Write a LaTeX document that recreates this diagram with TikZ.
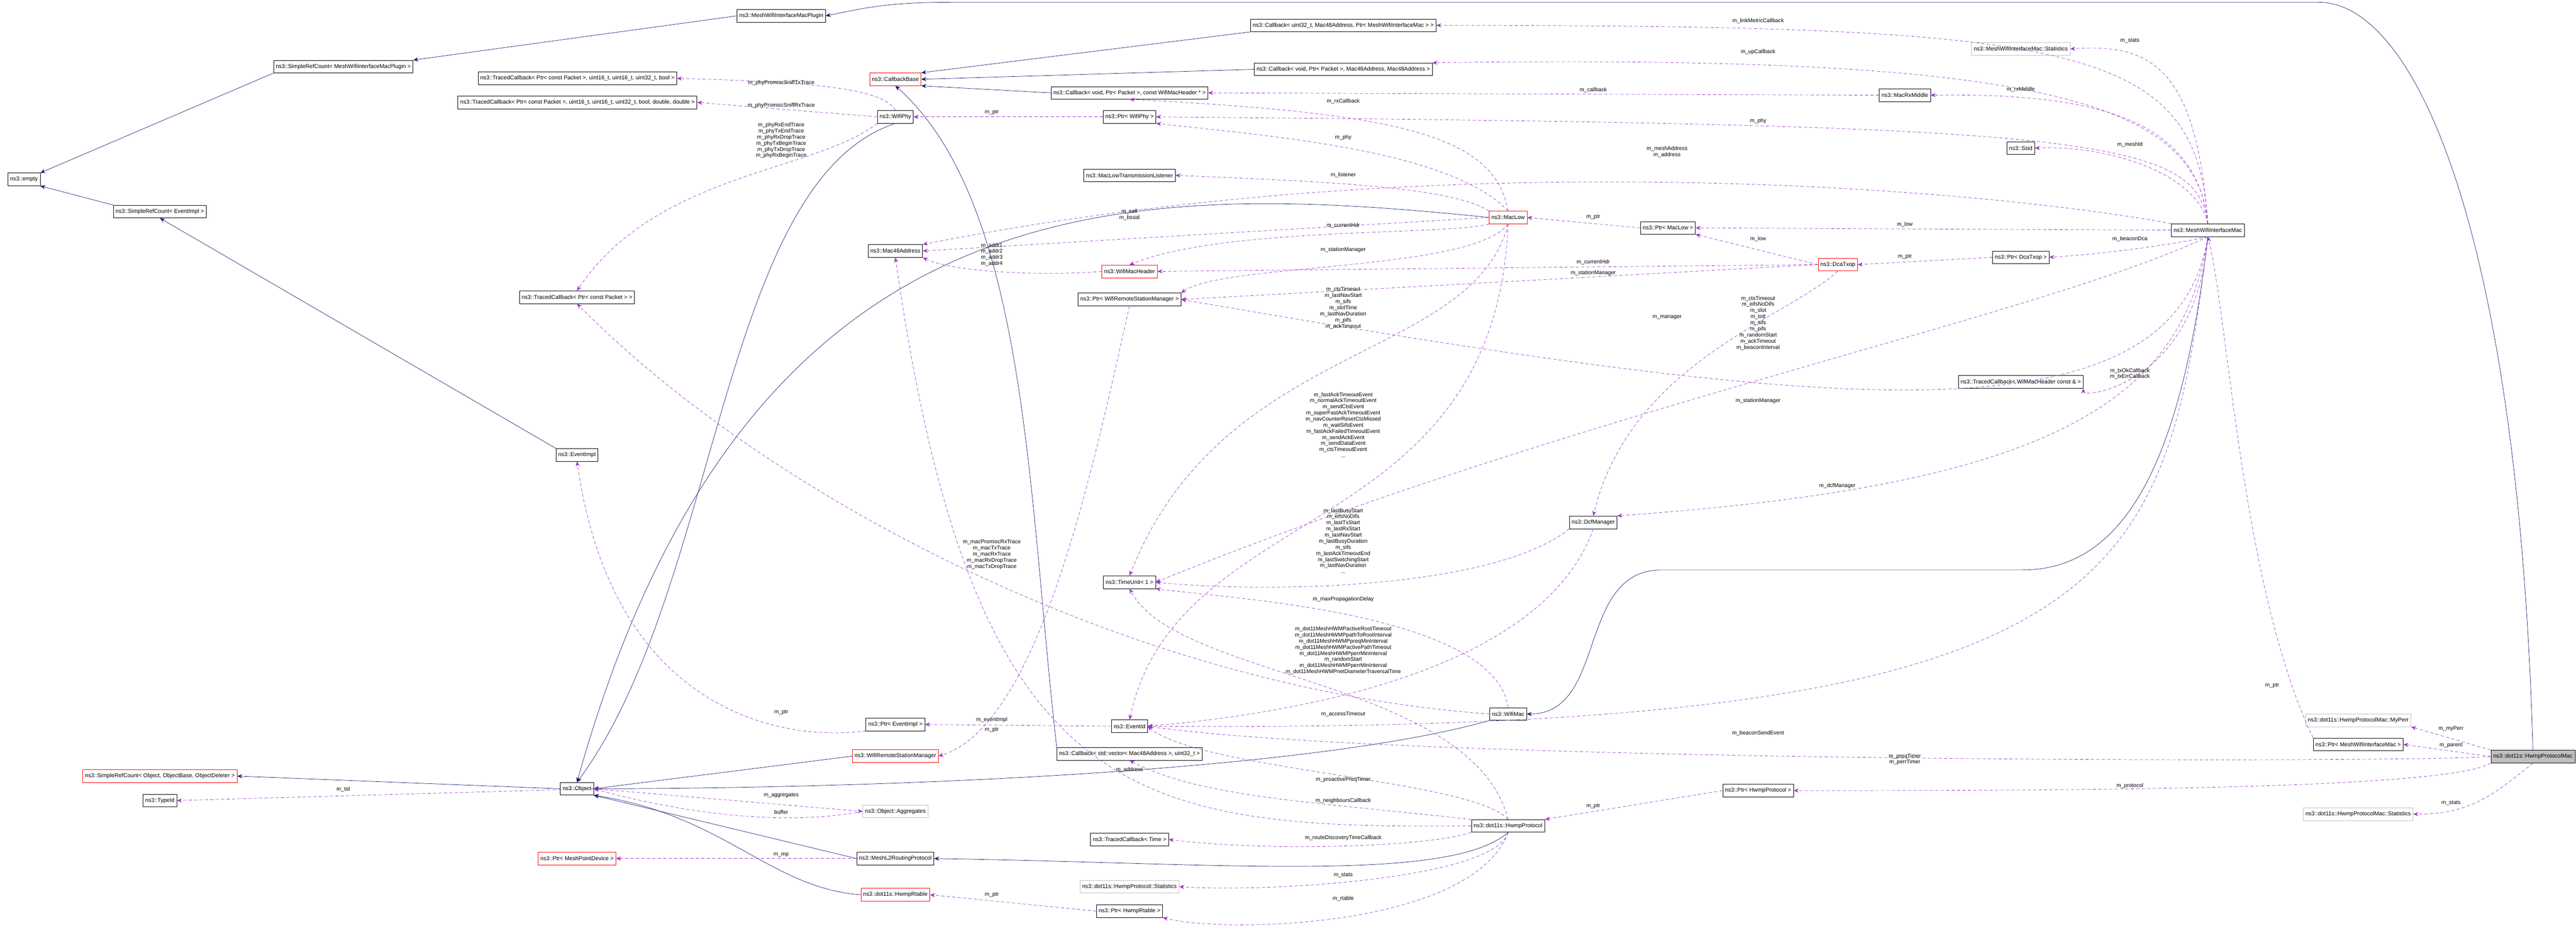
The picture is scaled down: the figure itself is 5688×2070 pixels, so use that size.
\documentclass[tikz,border=0pt]{standalone}
\usepackage{fontspec}
\setmainfont{Liberation Sans}
\usetikzlibrary{arrows.meta}

\definecolor{navyline}{HTML}{191970}
\definecolor{orchid}{HTML}{9A32CD}
\definecolor{redline}{HTML}{FF0000}
\definecolor{grayline}{HTML}{BFBFBF}
\definecolor{hifill}{HTML}{BFBFBF}

\tikzset{
  cls/.style={draw=black, thick, fill=white, minimum height=28pt, inner xsep=5pt, inner ysep=0pt},
  redcls/.style={cls, draw=redline},
  graycls/.style={cls, draw=grayline},
  hicls/.style={cls, fill=hifill},
  inh/.style={draw=navyline, thick, -{Stealth[length=11pt,width=9pt]}},
  dep/.style={draw=orchid, thick, dashed, dash pattern=on 7pt off 5pt, -{Stealth[length=11pt,width=9pt]}},
  lbl/.style={align=center, inner sep=0pt, font=\fontsize{12}{13.5}\selectfont}
}

\begin{document}
\begin{tikzpicture}[x=1pt, y=-1pt, font=\fontsize{12.5}{14}\selectfont]
\useasboundingbox (0,0) rectangle (5688,2070);

% left column
\node[cls] (empty) at (53,396) {ns3::empty};
\node[cls] (srcEvent) at (353,467) {ns3::SimpleRefCount< EventImpl >};
\node[cls] (srcPlugin) at (758,147) {ns3::SimpleRefCount< MeshWifiInterfaceMacPlugin >};
\node[redcls] (srcObject) at (353,1713) {ns3::SimpleRefCount< Object, ObjectBase, ObjectDeleter >};
\node[cls] (typeId) at (353,1767) {ns3::TypeId};

\node[cls] (plugin) at (1725,35) {ns3::MeshWifiInterfaceMacPlugin};
\node[cls] (tcbBool) at (1275,173) {ns3::TracedCallback< Ptr< const Packet >, uint16\_t, uint16\_t, uint32\_t, bool >};
\node[cls] (tcbDouble) at (1275,226) {ns3::TracedCallback< Ptr< const Packet >, uint16\_t, uint16\_t, uint32\_t, bool, double, double >};
\node[cls] (tcbPkt) at (1274,656) {ns3::TracedCallback< Ptr< const Packet > >};
\node[cls] (eventImpl) at (1274,1004) {ns3::EventImpl};
\node[cls] (object) at (1274,1741) {ns3::Object};
\node[redcls] (ptrMp) at (1274,1895) {ns3::Ptr< MeshPointDevice >};

% second column
\node[redcls] (callbackBase) at (1977,175) {ns3::CallbackBase};
\node[cls] (wifiPhy) at (1977,258) {ns3::WifiPhy};
\node[cls] (mac48) at (1977,554) {ns3::Mac48Address};
\node[cls] (ptrEvent) at (1977,1599) {ns3::Ptr< EventImpl >};
\node[redcls] (rsm) at (1977,1669) {ns3::WifiRemoteStationManager};
\node[graycls] (aggregates) at (1977,1791) {ns3::Object::Aggregates};
\node[cls] (l2) at (1977,1895) {ns3::MeshL2RoutingProtocol};
\node[redcls] (rtable) at (1977,1975) {ns3::dot11s::HwmpRtable};

% third column
\node[cls] (cbRx) at (2494,205) {ns3::Callback< void, Ptr< Packet >, const WifiMacHeader * >};
\node[cls] (ptrPhy) at (2494,258) {ns3::Ptr< WifiPhy >};
\node[cls] (lowListener) at (2494,387) {ns3::MacLowTransmissionListener};
\node[redcls] (macHdr) at (2494,599) {ns3::WifiMacHeader};
\node[cls] (ptrRsm) at (2494,661) {ns3::Ptr< WifiRemoteStationManager >};
\node[cls] (timeUnit) at (2494,1285) {ns3::TimeUnit< 1 >};
\node[cls] (eventId) at (2494,1603) {ns3::EventId};
\node[cls] (cbVec) at (2494,1664) {ns3::Callback< std::vector< Mac48Address >, uint32\_t >};
\node[cls] (tcbTime) at (2494,1853) {ns3::TracedCallback< Time >};
\node[graycls] (hwmpStats) at (2494,1957) {ns3::dot11s::HwmpProtocol::Statistics};
\node[cls] (ptrRtable) at (2494,2011) {ns3::Ptr< HwmpRtable >};

% fourth column
\node[cls] (cbLink) at (2966,56) {ns3::Callback< uint32\_t, Mac48Address, Ptr< MeshWifiInterfaceMac > >};
\node[cls] (cbUp) at (2966,153) {ns3::Callback< void, Ptr< Packet >, Mac48Address, Mac48Address >};
\node[redcls] (macLow) at (3330,480) {ns3::MacLow};
\node[cls] (wifiMac) at (3330,1576) {ns3::WifiMac};
\node[cls] (hwmp) at (3330,1823) {ns3::dot11s::HwmpProtocol};
\node[cls] (ptrLow) at (3683,503) {ns3::Ptr< MacLow >};
\node[cls] (dcfManager) at (3518,1153) {ns3::DcfManager};
\node[cls] (ptrHwmp) at (3882,1745) {ns3::Ptr< HwmpProtocol >};

% right part
\node[redcls] (dca) at (4058,584) {ns3::DcaTxop};
\node[cls] (rxMiddle) at (4206,210) {ns3::MacRxMiddle};
\node[graycls] (meshStats) at (4462,108) {ns3::MeshWifiInterfaceMac::Statistics};
\node[cls] (ssid) at (4462,327) {ns3::Ssid};
\node[cls] (ptrDca) at (4462,568) {ns3::Ptr< DcaTxop >};
\node[cls] (tcbHdr) at (4462,843) {ns3::TracedCallback< WifiMacHeader const \& >};
\node[cls] (meshMac) at (4875,508) {ns3::MeshWifiInterfaceMac};
\node[graycls] (myPerr) at (5207,1590) {ns3::dot11s::HwmpProtocolMac::MyPerr};
\node[cls] (ptrMesh) at (5207,1643) {ns3::Ptr< MeshWifiInterfaceMac >};
\node[graycls] (macStats) at (5207,1797) {ns3::dot11s::HwmpProtocolMac::Statistics};
\node[hicls, anchor=east] (hwmpMac) at (5686,1670) {ns3::dot11s::HwmpProtocolMac};

% inheritance
\draw[inh] (plugin.west) -- (srcPlugin.north east);
\draw[inh] (srcPlugin.south west) -- (empty.north east);
\draw[inh] (srcEvent.north west) -- (empty.south east);
\draw[inh] (eventImpl.north west) -- (srcEvent.south);
\draw[inh] (object.west) -- (srcObject.east);
\draw[inh] (hwmpMac.north) .. controls (5560,500) and (5330,5) .. (5120,5) -- (2100,5) .. controls (1950,5) and (1900,20) .. (plugin.east);
\draw[inh] (cbLink.south west) -- (callbackBase.north east);
\draw[inh] (cbUp.west) -- (callbackBase.east);
\draw[inh] (cbRx.west) -- (callbackBase.south east);
\draw[inh] (cbVec.north west) .. controls (2270,1100) and (2270,450) .. (callbackBase.south);
\draw[inh] (wifiPhy.south) .. controls (1590,400) and (1590,1300) .. (object.north);
\draw[inh] (macLow.west) .. controls (2500,400) and (1650,380) .. (object.north);
\draw[inh] (wifiMac.south west) .. controls (2900,1700) and (2000,1740) .. (object.east);
\draw[inh] (rsm.west) -- (object.east);
\draw[inh] (l2.west) -- (object.south east);
\draw[inh] (rtable.west) .. controls (1700,1960) and (1600,1800) .. (object.south east);
\draw[inh] (meshMac.south) .. controls (4820,1000) and (4700,1258) .. (4466,1258) -- (3669,1258) .. controls (3480,1258) and (3550,1576) .. (wifiMac.east);
\draw[inh] (hwmp.south) .. controls (3200,1950) and (2700,1905) .. (l2.east);

% members
\draw[dep] (wifiPhy.north) .. controls (1950,190) and (1750,180) .. (tcbBool.east);
\draw[dep] (wifiPhy.west) -- (tcbDouble.east);
\draw[dep] (wifiPhy.south west) .. controls (1800,380) and (1450,380) .. (tcbPkt.north);
\draw[dep] (wifiMac.west) .. controls (2500,1520) and (1700,1100) .. (tcbPkt.south);
\draw[dep] (ptrPhy.west) -- (wifiPhy.east);
\draw[dep] (eventId.west) -- (ptrEvent.east);
\draw[dep] (ptrEvent.south west) .. controls (1700,1640) and (1350,1550) .. (eventImpl.south);
\draw[dep] (object.east) -- (typeId.east);
\draw[dep] (object.east) -- (aggregates.west);
\draw[dep] (aggregates.west) .. controls (1700,1830) and (1450,1780) .. (object.east);
\draw[dep] (l2.west) -- (ptrMp.east);
\draw[dep] (macLow.north) .. controls (3300,300) and (3100,250) .. (cbRx.south);
\draw[dep] (macLow.north) .. controls (3200,330) and (2800,300) .. (ptrPhy.south east);
\draw[dep] (macLow.north west) .. controls (3200,410) and (2900,400) .. (lowListener.east);
\draw[dep] (macLow.west) -- (mac48.east);
\draw[dep] (macLow.south west) .. controls (3200,520) and (2700,500) .. (macHdr.north);
\draw[dep] (macLow.south) .. controls (3250,600) and (2700,580) .. (ptrRsm.north east);
\draw[dep] (macLow.south) .. controls (3250,800) and (2700,750) .. (timeUnit.north);
\draw[dep] (macLow.south) .. controls (3300,1200) and (2600,1100) .. (eventId.north);
\draw[dep] (macHdr.west) .. controls (2300,610) and (2100,600) .. (mac48.south east);
\draw[dep] (ptrLow.west) -- (macLow.east);
\draw[dep] (ptrRsm.south) .. controls (2420,1000) and (2300,1600) .. (rsm.east);
\draw[dep] (dca.west) -- (ptrLow.south east);
\draw[dep] (dca.west) -- (macHdr.east);
\draw[dep] (dca.west) -- (ptrRsm.east);
\draw[dep] (dca.south) .. controls (3950,700) and (3600,800) .. (dcfManager.north);
\draw[dep] (ptrDca.west) -- (dca.east);
\draw[dep] (rxMiddle.west) -- (cbRx.east);
\draw[dep] (meshMac.north) .. controls (4850,100) and (4600,56) .. (cbLink.east);
\draw[dep] (meshMac.north) .. controls (4850,150) and (4750,95) .. (meshStats.east);
\draw[dep] (meshMac.north) .. controls (4850,220) and (4500,120) .. (cbUp.north east);
\draw[dep] (meshMac.north) .. controls (4850,250) and (4600,206) .. (rxMiddle.east);
\draw[dep] (meshMac.north) .. controls (4850,300) and (4600,275) .. (ptrPhy.east);
\draw[dep] (meshMac.north) .. controls (4850,380) and (4650,320) .. (ssid.east);
\draw[dep] (meshMac.north west) .. controls (4400,420) and (3200,310) .. (mac48.north east);
\draw[dep] (meshMac.west) -- (ptrLow.east);
\draw[dep] (meshMac.south) .. controls (4800,540) and (4650,560) .. (ptrDca.east);
\draw[dep] (meshMac.south) .. controls (4500,700) and (3500,900) .. (timeUnit.east);
\draw[dep] (meshMac.south) .. controls (4850,850) and (4600,880) .. (tcbHdr.south east);
\draw[dep] (meshMac.south) .. controls (4800,1000) and (4000,900) .. (ptrRsm.east);
\draw[dep] (meshMac.south) .. controls (4820,900) and (4500,1073) .. (dcfManager.north east);
\draw[dep] (meshMac.south) .. controls (4780,1300) and (4700,1619) .. (eventId.east);
\draw[dep] (dcfManager.south west) .. controls (3300,1300) and (2800,1310) .. (timeUnit.east);
\draw[dep] (dcfManager.south) .. controls (3400,1500) and (2800,1580) .. (eventId.east);
\draw[dep] (wifiMac.north) .. controls (3300,1350) and (2700,1320) .. (timeUnit.south east);
\draw[dep] (hwmp.north) .. controls (3250,1500) and (2600,1500) .. (timeUnit.south);
\draw[dep] (hwmp.north) .. controls (3250,1720) and (2650,1700) .. (eventId.east);
\draw[dep] (hwmp.north west) .. controls (2900,1770) and (2650,1760) .. (cbVec.south);
\draw[dep] (hwmp.west) .. controls (2500,1830) and (2150,1780) .. (mac48.south);
\draw[dep] (hwmp.south west) .. controls (3150,1870) and (2800,1880) .. (tcbTime.east);
\draw[dep] (hwmp.south) .. controls (3300,1940) and (2800,1970) .. (hwmpStats.east);
\draw[dep] (hwmp.south) .. controls (3250,2050) and (2700,2060) .. (ptrRtable.south east);
\draw[dep] (ptrRtable.west) -- (rtable.east);
\draw[dep] (ptrHwmp.west) -- (hwmp.north east);
\draw[dep] (ptrMesh.north west) .. controls (4950,1300) and (4920,700) .. (meshMac.south);
\draw[dep] (hwmpMac.north west) -- (myPerr.south east);
\draw[dep] (hwmpMac.west) -- (ptrMesh.east);
\draw[dep] (hwmpMac.west) .. controls (5300,1684) and (3100,1684) .. (eventId.east);
\draw[dep] (hwmpMac.south west) .. controls (5400,1745) and (4500,1745) .. (ptrHwmp.east);
\draw[dep] (hwmpMac.south) .. controls (5500,1760) and (5450,1797) .. (macStats.east);

% member labels
\node[lbl] (lPromTx) at (1725,183) {m\_phyPromiscSniffTxTrace};
\node[lbl] (lPromRx) at (1725,233) {m\_phyPromiscSniffRxTrace};
\node[lbl] (lPhyTr) at (1725,310) {m\_phyRxEndTrace\\m\_phyTxEndTrace\\m\_phyRxDropTrace\\m\_phyTxBeginTrace\\m\_phyTxDropTrace\\m\_phyRxBeginTrace};
\node[lbl] (lMacTr) at (2190,1224) {m\_macPromiscRxTrace\\m\_macTxTrace\\m\_macRxTrace\\m\_macRxDropTrace\\m\_macTxDropTrace};
\node[lbl] (lEvPtr) at (1725,1572) {m\_ptr};
\node[lbl] (lTid) at (758,1742) {m\_tid};
\node[lbl] (lAgg) at (1725,1756) {m\_aggregates};
\node[lbl] (lBuf) at (1725,1792) {buffer};
\node[lbl] (lMp) at (1725,1887) {m\_mp};
\node[lbl] (lPhyPtr) at (2190,248) {m\_ptr};
\node[lbl] (lRxCb) at (2966,224) {m\_rxCallback};
\node[lbl] (lCb) at (3518,199) {m\_callback};
\node[lbl] (lLowPhy) at (2966,303) {m\_phy};
\node[lbl] (lAddr) at (3681,335) {m\_meshAddress\\m\_address};
\node[lbl] (lListen) at (2966,386) {m\_listener};
\node[lbl] (lSelf) at (2494,474) {m\_self\\m\_bssid};
\node[lbl] (lAddrs) at (2190,562) {m\_addr1\\m\_addr2\\m\_addr3\\m\_addr4};
\node[lbl] (lHdr) at (2966,498) {m\_currentHdr};
\node[lbl] (lRsm) at (2966,552) {m\_stationManager};
\node[lbl] (lLowPtr) at (3518,479) {m\_ptr};
\node[lbl] (lDcaHdr) at (3518,579) {m\_currentHdr};
\node[lbl] (lDcaRsm) at (3518,603) {m\_stationManager};
\node[lbl] (lLowTimes) at (2966,680) {m\_ctsTimeout\\m\_lastNavStart\\m\_sifs\\m\_slotTime\\m\_lastNavDuration\\m\_pifs\\m\_ackTimeout};
\node[lbl] (lManager) at (3681,700) {m\_manager};
\node[lbl] (lLowEvents) at (2966,938) {m\_fastAckTimeoutEvent\\m\_normalAckTimeoutEvent\\m\_sendCtsEvent\\m\_superFastAckTimeoutEvent\\m\_navCounterResetCtsMissed\\m\_waitSifsEvent\\m\_fastAckFailedTimeoutEvent\\m\_sendAckEvent\\m\_sendDataEvent\\m\_ctsTimeoutEvent\\...};
\node[lbl] (lDcfTimes) at (2966,1194) {m\_lastBusyStart\\m\_eifsNoDifs\\m\_lastTxStart\\m\_lastRxStart\\m\_lastNavStart\\m\_lastBusyDuration\\m\_sifs\\m\_lastAckTimeoutEnd\\m\_lastSwitchingStart\\m\_lastNavDuration\\...};
\node[lbl] (lDelay) at (2966,1323) {m\_maxPropagationDelay};
\node[lbl] (lHwmpTimes) at (2966,1436) {m\_dot11MeshHWMPactiveRootTimeout\\m\_dot11MeshHWMPpathToRootInterval\\m\_dot11MeshHWMPpreqMinInterval\\m\_dot11MeshHWMPactivePathTimeout\\m\_dot11MeshHWMPperrMinInterval\\m\_randomStart\\m\_dot11MeshHWMPperrMinInterval\\m\_dot11MeshHWMPnetDiameterTraversalTime};
\node[lbl] (lAccess) at (2966,1576) {m\_accessTimeout};
\node[lbl] (lEvImpl) at (2190,1589) {m\_eventImpl};
\node[lbl] (lRsmPtr) at (2190,1611) {m\_ptr};
\node[lbl] (lAddress) at (2494,1699) {m\_address};
\node[lbl] (lPreq) at (2966,1721) {m\_proactivePreqTimer};
\node[lbl] (lNeigh) at (2966,1768) {m\_neighboursCallback};
\node[lbl] (lHwmpPtr) at (3518,1779) {m\_ptr};
\node[lbl] (lRoute) at (2966,1850) {m\_routeDiscoveryTimeCallback};
\node[lbl] (lHStats) at (2966,1932) {m\_stats};
\node[lbl] (lRtable) at (2966,1984) {m\_rtable};
\node[lbl] (lRtPtr) at (2190,1975) {m\_ptr};
\node[lbl] (lLink) at (3882,46) {m\_linkMetricCallback};
\node[lbl] (lMStats) at (4703,90) {m\_stats};
\node[lbl] (lUp) at (3882,115) {m\_upCallback};
\node[lbl] (lRxMid) at (4462,198) {m\_rxMiddle};
\node[lbl] (lMPhy) at (3882,267) {m\_phy};
\node[lbl] (lMeshId) at (4703,319) {m\_meshId};
\node[lbl] (lLow) at (4206,496) {m\_low};
\node[lbl] (lDcaLow) at (3882,528) {m\_low};
\node[lbl] (lBDca) at (4703,528) {m\_beaconDca};
\node[lbl] (lDcaPtr) at (4206,567) {m\_ptr};
\node[lbl] (lMeshTimes) at (3882,713) {m\_ctsTimeout\\m\_eifsNoDifs\\m\_slot\\m\_tott\\m\_sifs\\m\_pifs\\m\_randomStart\\m\_ackTimeout\\m\_beaconInterval};
\node[lbl] (lTxCb) at (4703,825) {m\_txOkCallback\\m\_txErrCallback};
\node[lbl] (lMRsm) at (3882,885) {m\_stationManager};
\node[lbl] (lDcf) at (4057,1073) {m\_dcfManager};
\node[lbl] (lMeshPtr) at (5017,1513) {m\_ptr};
\node[lbl] (lBeacon) at (3882,1619) {m\_beaconSendEvent};
\node[lbl] (lMyPerr) at (5412,1608) {m\_myPerr};
\node[lbl] (lParent) at (5412,1645) {m\_parent};
\node[lbl] (lTimers) at (4206,1676) {m\_preqTimer\\m\_perrTimer};
\node[lbl] (lProto) at (4703,1735) {m\_protocol};
\node[lbl] (lMacStats) at (5412,1772) {m\_stats};

\end{tikzpicture}
\end{document}
